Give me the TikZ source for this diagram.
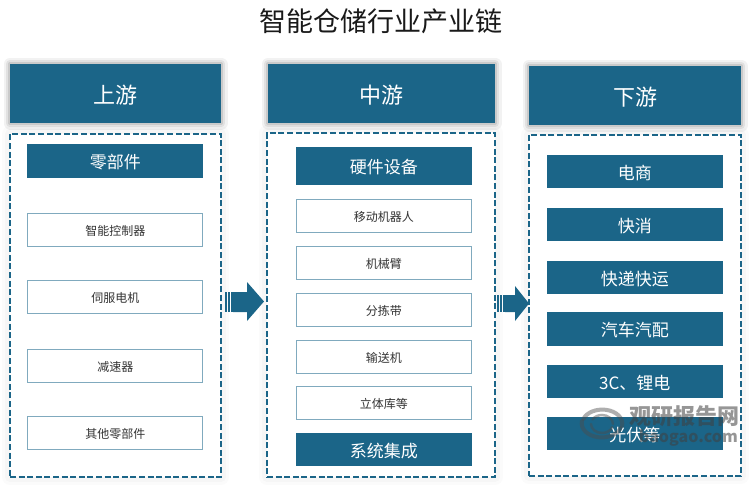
\documentclass[tikz,border=0pt]{standalone}
\usepackage{fontspec}
\setmainfont{Noto Sans CJK SC}
\usetikzlibrary{arrows.meta}
\definecolor{chainblue}{RGB}{27,101,136}
\definecolor{itemline}{RGB}{128,170,190}
\tikzset{
    headbox/.style={fill=chainblue, text=white, font=\fontsize{22}{24}\selectfont, minimum height=59pt, inner sep=0pt,
        text height=21pt, text depth=1pt,
        preaction={draw=black, draw opacity=.05, line width=13pt, line join=round},
        preaction={draw=black, draw opacity=.07, line width=8pt, line join=round},
        preaction={draw=black, draw opacity=.10, line width=4pt, line join=round}},
    dashbox/.style={fill=white,
        preaction={draw=black, draw opacity=.015, line width=16pt, line join=round},
        preaction={draw=black, draw opacity=.02, line width=10pt, line join=round},
        postaction={draw=chainblue, line width=1.5pt, dash pattern=on 6pt off 2.6pt},
        inner sep=0pt},
    subbox/.style={fill=chainblue, text=white, inner sep=0pt, minimum height=33.5pt,
        text height=16pt, text depth=1pt},
    itembox/.style={draw=itemline, line width=.9pt, fill=white, text=black!80, inner sep=0pt,
        minimum height=33pt, font=\fontsize{12}{14}\selectfont, text height=12pt, text depth=.8pt},
    flowarrow/.style={fill=chainblue, draw=none},
    stampmark/.style={text=black!75, opacity=.55, inner sep=0pt},
    stampring/.style={black!70, opacity=.45, line cap=round}
}
\begin{document}
\begin{tikzpicture}[x=1pt, y=-1pt]
    \useasboundingbox (0,0) rectangle (750,485);
    \node[font=\fontsize{27}{29}\selectfont, text=black!90, inner sep=0pt] (title) at (381,21.5) {智能仓储行业产业链};

    % upstream
    \node[headbox, minimum width=211pt] (upHead) at (115.5,93.5) {上游};
    \node[dashbox, minimum width=211pt, minimum height=343pt] (upPanel) at (115.5,305.5) {};
    \node[subbox, minimum width=176pt, font=\fontsize{17}{19}\selectfont] (upSub) at (115.25,161) {零部件};
    \foreach \ypos/\name/\txt in {229.5/upA/智能控制器, 296.5/upB/伺服电机, 365.5/upC/减速器, 432.5/upD/其他零部件}
        \node[itembox, minimum width=175pt] (\name) at (115.25,\ypos) {\txt};

    % midstream
    \node[headbox, minimum width=227pt] (midHead) at (381.5,93.5) {中游};
    \node[dashbox, minimum width=228pt, minimum height=344pt] (midPanel) at (381,305) {};
    \node[subbox, minimum width=176.5pt, minimum height=38pt, font=\fontsize{17}{19}\selectfont] (midSub) at (383.75,166) {硬件设备};
    \foreach \ypos/\name/\txt in {215.5/midA/移动机器人, 262.5/midB/机械臂, 309.5/midC/分拣带, 356.5/midD/输送机, 402.5/midE/立体库等}
        \node[itembox, minimum width=175.5pt] (\name) at (383.75,\ypos) {\txt};
    \node[subbox, minimum width=176.5pt, font=\fontsize{17}{19}\selectfont] (midSys) at (383.75,449.5) {系统集成};

    % downstream
    \node[headbox, minimum width=212pt] (downHead) at (635,95.5) {下游};
    \node[dashbox, minimum width=212pt, minimum height=341pt] (downPanel) at (635,305.5) {};
    \foreach \ypos/\name/\txt in {171.5/downA/电商, 224.5/downB/快消, 277.5/downC/快递快运, 329/downD/汽车汽配, 381.5/downE/3C、锂电, 433.5/downF/光伏等}
        \node[subbox, minimum width=175.5pt, font=\fontsize{17}{19}\selectfont] (\name) at (634.75,\ypos) {\txt};

    % arrows between panels
    \fill[flowarrow] (233,292) -- (247,292) -- (247,282) -- (264,301.5) -- (247,321) -- (247,312) -- (233,312) -- cycle;
    \foreach \xa in {225,228,231}
        \fill[flowarrow] (\xa,292) rectangle (\xa+1.5,312);
    \fill[flowarrow] (505,295) -- (515,295) -- (515,286) -- (529,303.5) -- (515,321) -- (515,312) -- (505,312) -- cycle;
    \foreach \xa in {497,500,503}
        \fill[flowarrow] (\xa,295) rectangle (\xa+1.5,312);

    % watermark
    \node[stampmark, font=\fontsize{22}{24}\selectfont\bfseries] (stampCn) at (684,416) {观研报告网};
    \node[stampmark, font=\fontsize{16}{18}\selectfont\bfseries, anchor=east] (stampEn) at (738,438) {baogao.com};
    \draw[stampring, line width=4pt] (582,421) arc (190:20:20 and 14);
    \draw[stampring, line width=4pt] (622,426) arc (10:-160:20 and 14);
    \draw[stampring, line width=2.5pt] (591,424) arc (180:20:11 and 9);
    \draw[stampring, line width=2.5pt] (613,424) arc (0:-150:11 and 9);
\end{tikzpicture}
\end{document}
